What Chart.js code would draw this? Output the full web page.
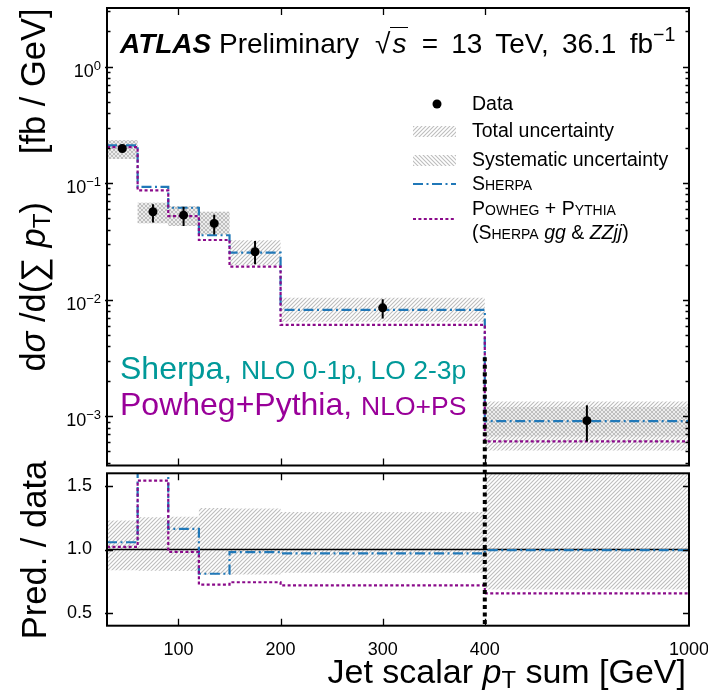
<!DOCTYPE html>
<html lang="en">
<head>
<meta charset="UTF-8">
<title>Jet scalar pT sum</title>
<script src="https://cdn.jsdelivr.net/npm/chart.js@4.4.1/dist/chart.umd.min.js"></script>
<style>
    body { margin: 0; background: #fff; font-family: "Liberation Sans", Arial, sans-serif; color: #000; }
    #wrap { position: relative; width: 708px; height: 694px; overflow: hidden; }
    canvas { position: absolute; left: 0; }
    #topChart { top: 0; }
    #ratioChart { top: 470px; }
    .txt { position: absolute; white-space: nowrap; line-height: 1; }
    sub { font-size: 0.7em; vertical-align: -0.22em; line-height: 0; }
    sup { font-size: 0.7em; vertical-align: 0.6em; line-height: 0; }
    .sc { font-variant: small-caps; }
    .rot { position: absolute; transform: rotate(-90deg); text-align: center; white-space: nowrap; }
    .leg { font-size: 19.5px; }
    svg.sw { position: absolute; overflow: visible; }
</style>
</head>
<body>
<div id="wrap">
    <canvas id="topChart" width="708" height="470"></canvas>
    <canvas id="ratioChart" width="708" height="224"></canvas>

    <div class="txt" style="left:120px; top:30px; font-size:28px;"><b><i>ATLAS</i></b> Preliminary</div>
    <div class="txt" style="left:375px; top:30px; font-size:28px; word-spacing:5.5px;">√<span style="border-top:1.5px solid #000; font-style:italic; padding:0 2px;">s</span> = 13 TeV, 36.1 fb<sup>−1</sup></div>

    <!-- legend -->
    <svg class="sw" style="left:0; top:0;" width="708" height="260">
        <defs>
            <pattern id="hf" width="4" height="4" patternUnits="userSpaceOnUse">
                <path d="M-1,1 l2,-2 M0,4 l4,-4 M3,5 l2,-2" stroke="#bdbdbd" stroke-width="1.1"/>
            </pattern>
            <pattern id="hb" width="4" height="4" patternUnits="userSpaceOnUse">
                <path d="M-1,3 l2,2 M0,0 l4,4 M3,-1 l2,2" stroke="#bdbdbd" stroke-width="1.1"/>
            </pattern>
        </defs>
        <circle cx="437" cy="104" r="4.5" fill="#000"/>
        <rect x="413" y="126" width="43" height="11" fill="url(#hf)"/>
        <rect x="413" y="155" width="43" height="11" fill="url(#hb)"/>
        <line x1="413" y1="184" x2="456" y2="184" stroke="#2078b8" stroke-width="2.2" stroke-dasharray="10 3.5 2 3.5"/>
        <line x1="413" y1="219" x2="456" y2="219" stroke="#8a0a8a" stroke-width="2.2" stroke-dasharray="3 2.4"/>
    </svg>
    <div class="txt leg" style="left:472px; top:94px;">Data</div>
    <div class="txt leg" style="left:472px; top:121px;">Total uncertainty</div>
    <div class="txt leg" style="left:472px; top:150px;">Systematic uncertainty</div>
    <div class="txt leg" style="left:472px; top:174px;"><span class="sc">Sherpa</span></div>
    <div class="txt leg" style="left:472px; top:199px;"><span class="sc">Powheg</span> + <span class="sc">Pythia</span></div>
    <div class="txt leg" style="left:472px; top:223px;">(<span class="sc">Sherpa</span> <i>gg</i> &amp; <i>ZZjj</i>)</div>

    <div class="txt" style="left:120px; top:352px; font-size:32px; color:#009999;">Sherpa, <span style="font-size:26.5px;">NLO 0-1p, LO 2-3p</span></div>
    <div class="txt" style="left:120px; top:388px; font-size:32px; color:#990099;">Powheg+Pythia, <span style="font-size:26.5px;">NLO+PS</span></div>

    <!-- axis titles -->
    <div class="rot" style="left:-217px; top:170px; width:500px; height:40px; line-height:40px; font-size:34.5px;">d<i>σ</i> /d(∑ <i>p</i><sub>T</sub>)&nbsp;&nbsp;&nbsp;&nbsp;&nbsp;[fb / GeV]</div>
    <div class="rot" style="left:-76px; top:530px; width:220px; height:40px; line-height:40px; font-size:34.5px;">Pred. / data</div>
    <div class="txt" style="right:22px; top:654px; font-size:34px;">Jet scalar <i>p</i><sub>T</sub> sum [GeV]</div>
</div>

<script>
// ---- data ----
const binEdges = [30, 60, 90, 120, 150, 200, 400, 1000];
const binCenters = [45, 75, 105, 135, 175, 300, 700];

const dataValues = [0.198, 0.0568, 0.0531, 0.0451, 0.0258, 0.00851, 0.000916];
const dataErrLow = [0.190, 0.0460, 0.0428, 0.0363, 0.0201, 0.0069, 0.000608];
const dataErrHigh = [0.206, 0.0660, 0.0627, 0.0536, 0.0318, 0.0101, 0.00124];

const sherpaValues = [0.211, 0.0929, 0.0615, 0.0357, 0.0253, 0.00818, 0.000908];
const powhegValues = [0.204, 0.0865, 0.0522, 0.0325, 0.0192, 0.00609, 0.000608];

const totalUncLow = [0.161, 0.0452, 0.0428, 0.0363, 0.0197, 0.00646, 0.000509];
const totalUncHigh = [0.233, 0.0677, 0.0634, 0.0568, 0.0323, 0.0104, 0.001337];
const systUncLow = [0.161, 0.0452, 0.0428, 0.0363, 0.0258, 0.00851, 0.00067];
const systUncHigh = [0.233, 0.0677, 0.0634, 0.0568, 0.0258, 0.00851, 0.0012];

const ratioSherpa = [1.057, 1.65, 1.163, 0.809, 0.979, 0.969, 0.995];
const ratioPowheg = [1.021, 1.543, 0.982, 0.724, 0.742, 0.717, 0.654];
const ratioUncLow = [0.837, 0.832, 0.830, 0.803, 0.803, 0.816, 0.685];
const ratioUncHigh = [1.228, 1.254, 1.257, 1.326, 1.323, 1.295, 1.70];

const xTickLabels = [100, 200, 300, 400, 1000];
const topYTicks = [1e-3, 1e-2, 1e-1, 1];
const ratioYTicks = [0.5, 1.0, 1.5];
const cutAt = 400;        // vertical dotted marker
const cutTopValue = 0.0032;

// last bin (400-1000) is squeezed on the axis
function tx(v) { return v <= 400 ? v : 400 + (v - 400) / 3; }

const FONT = '"Liberation Sans", Arial, sans-serif';
Chart.defaults.font.family = FONT;
Chart.defaults.color = '#000';

const SHERPA_COLOR = '#2078b8';
const POWHEG_COLOR = '#8a0a8a';
const HATCH_COLOR = '#bdbdbd';

function hatch(forward) {
    const c = document.createElement('canvas');
    c.width = 4; c.height = 4;
    const g = c.getContext('2d');
    g.strokeStyle = HATCH_COLOR;
    g.lineWidth = 1.1;
    g.beginPath();
    if (forward) {
        g.moveTo(-1, 1); g.lineTo(1, -1);
        g.moveTo(0, 4); g.lineTo(4, 0);
        g.moveTo(3, 5); g.lineTo(5, 3);
    } else {
        g.moveTo(-1, 3); g.lineTo(1, 5);
        g.moveTo(0, 0); g.lineTo(4, 4);
        g.moveTo(3, -1); g.lineTo(5, 1);
    }
    g.stroke();
    return g.createPattern(c, 'repeat');
}
const hatchFwd = hatch(true);
const hatchBack = hatch(false);

// histogram steps: each value holds from its left edge to the next edge
function steps(vals) {
    const pts = vals.map((v, i) => ({ x: tx(binEdges[i]), y: v }));
    pts.push({ x: tx(binEdges[binEdges.length - 1]), y: vals[vals.length - 1] });
    return pts;
}

function band(hi, lo, pattern, order) {
    return [
        { data: steps(hi), stepped: 'before', borderWidth: 0, pointRadius: 0, fill: '+1', backgroundColor: pattern, order: order },
        { data: steps(lo), stepped: 'before', borderWidth: 0, pointRadius: 0, fill: false, order: order }
    ];
}

function histLine(vals, color, dash, order) {
    return { data: steps(vals), stepped: 'before', borderColor: color, borderWidth: 2.2, borderDash: dash,
             pointRadius: 0, fill: false, order: order };
}

// frame with inward ticks on all four sides
function framePlugin(yMajor, yMinor) {
    return {
        id: 'frame',
        afterDraw(chart) {
            const ctx = chart.ctx, a = chart.chartArea;
            const xs = chart.scales.x, ys = chart.scales.y;
            ctx.save();
            ctx.strokeStyle = '#000';
            ctx.lineWidth = 1.3;
            ctx.beginPath();
            xTickLabels.slice(0, -1).forEach(v => {
                const px = Math.round(xs.getPixelForValue(tx(v))) + 0.5;
                ctx.moveTo(px, a.bottom); ctx.lineTo(px, a.bottom - 7);
                ctx.moveTo(px, a.top); ctx.lineTo(px, a.top + 7);
            });
            yMajor.forEach(v => {
                const py = Math.round(ys.getPixelForValue(v)) + 0.5;
                ctx.moveTo(a.left - 2, py); ctx.lineTo(a.left + 6, py);
                ctx.moveTo(a.right, py); ctx.lineTo(a.right - 6, py);
            });
            yMinor.forEach(v => {
                const py = Math.round(ys.getPixelForValue(v)) + 0.5;
                ctx.moveTo(a.left, py); ctx.lineTo(a.left + 3.5, py);
                ctx.moveTo(a.right, py); ctx.lineTo(a.right - 3.5, py);
            });
            ctx.stroke();
            ctx.lineWidth = 2;
            ctx.strokeRect(a.left, a.top, a.right - a.left, a.bottom - a.top);
            ctx.restore();
        }
    };
}

function cutLine(fromValue, toCanvasEdge) {
    return {
        id: 'cutLine',
        afterDraw(chart) {
            const ctx = chart.ctx, a = chart.chartArea;
            const px = chart.scales.x.getPixelForValue(tx(cutAt));
            let y0, y1;
            if (toCanvasEdge) { y0 = chart.scales.y.getPixelForValue(fromValue); y1 = chart.height; }
            else { y0 = 0; y1 = a.bottom; }
            ctx.save();
            ctx.strokeStyle = '#000';
            ctx.lineWidth = 4;
            ctx.setLineDash([4, 3.5]);
            ctx.beginPath();
            ctx.moveTo(px, y0); ctx.lineTo(px, y1);
            ctx.stroke();
            ctx.restore();
        }
    };
}

const errorBars = {
    id: 'errorBars',
    afterDatasetsDraw(chart) {
        const ctx = chart.ctx, xs = chart.scales.x, ys = chart.scales.y;
        ctx.save();
        ctx.strokeStyle = '#000';
        ctx.lineWidth = 2;
        ctx.beginPath();
        binCenters.forEach((c, i) => {
            const px = xs.getPixelForValue(tx(c));
            ctx.moveTo(px, ys.getPixelForValue(dataErrLow[i]));
            ctx.lineTo(px, ys.getPixelForValue(dataErrHigh[i]));
        });
        ctx.stroke();
        ctx.restore();
    }
};

const logLabels = {
    id: 'logLabels',
    afterDraw(chart) {
        const ctx = chart.ctx, a = chart.chartArea, ys = chart.scales.y;
        ctx.save();
        ctx.fillStyle = '#000';
        ctx.textBaseline = 'alphabetic';
        topYTicks.forEach(v => {
            const e = Math.round(Math.log10(v));
            const sup = e === 0 ? '0' : '\u2212' + (-e);
            const py = ys.getPixelForValue(v);
            ctx.font = '13px ' + FONT;
            const sw = ctx.measureText(sup).width;
            ctx.font = '18px ' + FONT;
            const bw = ctx.measureText('10').width;
            const right = a.left - 6;
            ctx.fillText('10', right - sw - bw, py + 10);
            ctx.font = '13px ' + FONT;
            ctx.fillText(sup, right - sw, py + 3);
        });
        ctx.restore();
    }
};

const topMinor = [];
for (let e = -4; e <= 0; e++) {
    for (let k = 2; k <= 9; k++) {
        const v = k * Math.pow(10, e);
        if (v > 3.78e-4 && v < 3.18) topMinor.push(v);
    }
}

const xScaleBase = {
    type: 'linear',
    min: tx(binEdges[0]),
    max: tx(binEdges[binEdges.length - 1]),
    grid: { display: false },
    border: { display: false }
};

new Chart(document.getElementById('topChart'), {
    type: 'line',
    data: {
        datasets: [
            { type: 'scatter', data: binCenters.map((c, i) => ({ x: tx(c), y: dataValues[i] })),
              pointRadius: 4.5, pointBackgroundColor: '#000', pointBorderWidth: 0, order: 0 },
            histLine(sherpaValues, SHERPA_COLOR, [10, 3.5, 2, 3.5], 2),
            histLine(powhegValues, POWHEG_COLOR, [3, 2.4], 1),
            ...band(systUncHigh, systUncLow, hatchBack, 8),
            ...band(totalUncHigh, totalUncLow, hatchFwd, 9)
        ]
    },
    options: {
        responsive: false,
        animation: false,
        events: [],
        layout: { padding: { left: 107, right: 19, top: 8, bottom: 3.3 } },
        plugins: { legend: { display: false }, tooltip: { enabled: false } },
        scales: {
            x: { ...xScaleBase, display: false },
            y: { type: 'logarithmic', min: 3.78e-4, max: 3.18, display: false }
        }
    },
    plugins: [errorBars, framePlugin(topYTicks, topMinor), logLabels, cutLine(cutTopValue, true)]
});

new Chart(document.getElementById('ratioChart'), {
    type: 'line',
    data: {
        datasets: [
            histLine(ratioSherpa, SHERPA_COLOR, [10, 3.5, 2, 3.5], 1),
            histLine(ratioPowheg, POWHEG_COLOR, [3, 2.4], 0),
            { data: [{ x: tx(binEdges[0]), y: 1 }, { x: tx(binEdges[binEdges.length - 1]), y: 1 }],
              borderColor: '#000', borderWidth: 1.5, pointRadius: 0, fill: false, order: 3 },
            ...band(ratioUncHigh, ratioUncLow, hatchFwd, 9)
        ]
    },
    options: {
        responsive: false,
        animation: false,
        events: [],
        layout: { padding: { left: 0, right: 19, top: 3.3, bottom: 0 } },
        plugins: { legend: { display: false }, tooltip: { enabled: false } },
        scales: {
            x: {
                ...xScaleBase,
                afterBuildTicks: (scale) => { scale.ticks = xTickLabels.map(v => ({ value: tx(v) })); },
                afterFit: (scale) => { scale.height = 68.3; scale.paddingLeft = 0; scale.paddingRight = 0; },
                ticks: {
                    autoSkip: false, maxRotation: 0, padding: 6,
                    font: { size: 18 },
                    callback: (value, index) => String(xTickLabels[index])
                }
            },
            y: {
                type: 'linear', min: 0.4, max: 1.6,
                grid: { display: false },
                border: { display: false },
                afterBuildTicks: (scale) => { scale.ticks = ratioYTicks.map(v => ({ value: v })); },
                afterFit: (scale) => { scale.width = 107; scale.paddingTop = 0; scale.paddingBottom = 0; },
                ticks: { padding: 7, font: { size: 18 }, callback: (value) => value.toFixed(1) }
            }
        }
    },
    plugins: [framePlugin(ratioYTicks, []), cutLine(0, false)]
});
</script>
</body>
</html>
